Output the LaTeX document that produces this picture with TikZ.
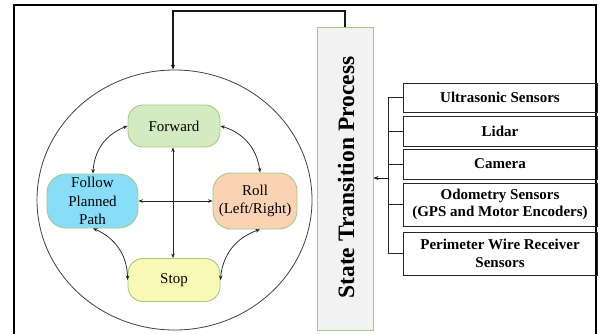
\documentclass[tikz,border=0pt]{standalone}
\usepackage{fontspec}
\setmainfont{Liberation Serif}
\usetikzlibrary{arrows.meta,shapes.geometric,bending}

\definecolor{fwdfill}{HTML}{D4EBC2}
\definecolor{followfill}{HTML}{88DDF9}
\definecolor{rollfill}{HTML}{F9D3B4}
\definecolor{stopfill}{HTML}{F9F9B6}
\definecolor{stateedge}{HTML}{9FCC84}
\definecolor{panelfill}{HTML}{F2F2F2}

\tikzset{
  statebox/.style={draw=stateedge, line width=0.9pt, align=center, inner sep=0pt,
    font=\fontsize{15}{18.3}\selectfont},
  sensorbox/.style={draw=black!85, line width=1pt, minimum width=194pt, align=center,
    inner sep=0pt, font=\fontsize{15}{17.3}\selectfont\bfseries},
  link/.style={line width=0.75pt, black!85,
    {Stealth[length=4.5pt,width=3.6pt]}-{Stealth[length=4.5pt,width=3.6pt]}},
  feed/.style={line width=1.1pt, black!90},
}

\begin{document}
\begin{tikzpicture}[x=1pt,y=1pt]
\useasboundingbox (0,0) rectangle (605,333);

% outer frame (open at the bottom edge)
\draw[line width=2pt] (14,-8) -- (14,328) -- (596,328) -- (596,-8);

% state machine ring
\node[ellipse, draw=black!75, line width=0.8pt, minimum width=275pt, minimum height=260pt]
  (ring) at (174.5,133) {};

% states
\node[statebox, fill=fwdfill, minimum width=92pt, minimum height=42pt, rounded corners=15pt]
  (fwd) at (174,207) {Forward};
\node[statebox, fill=followfill, minimum width=91pt, minimum height=54pt, rounded corners=19pt]
  (follow) at (92.5,132) {Follow\\Planned\\Path};
\node[statebox, fill=rollfill, minimum width=84pt, minimum height=56pt, rounded corners=18pt]
  (roll) at (255,132) {Roll\\(Left/Right)};
\node[statebox, fill=stopfill, minimum width=92pt, minimum height=43pt, rounded corners=15pt]
  (stop) at (174,53) {Stop};

% transitions
\draw[link] (fwd.south -| 173,0) -- (stop.north -| 173,0);
\draw[link] (follow.east) -- (roll.west);
\draw[link] (fwd.west) to[bend right=35] ([xshift=0.5pt]follow.north);
\draw[link] (fwd.east) to[bend left=35] ([xshift=5pt]roll.north);
\draw[link] ([xshift=0.5pt]follow.south) to[bend left=35] (stop.west);
\draw[link] ([xshift=5pt]roll.south) to[bend right=35] (stop.east);

% state transition process panel
\node[draw=stateedge, fill=panelfill, line width=0.9pt, minimum width=56pt, minimum height=303pt,
  inner sep=0pt] (stp) at (345,154.5) {};
\node[rotate=90, font=\fontsize{23.5}{26}\selectfont\bfseries, inner sep=0pt]
  (stplabel) at (346,155.5) {State Transition Process};

% feedback from the panel back into the ring
\coordinate (top) at (173,322);
\draw[feed, -{Stealth[length=5pt,width=4pt]}]
  (stp.north) |- (top) -- (top |- ring.north);

% sensors
\node[sensorbox, minimum height=29pt] (ultra) at (500,235.5) {Ultrasonic Sensors};
\node[sensorbox, minimum height=30pt] (lidar) at (500,202) {Lidar};
\node[sensorbox, minimum height=30pt] (cam) at (500,169) {Camera};
\node[sensorbox, minimum height=43pt] (odo) at (500,128.5) {Odometry Sensors\\(GPS and Motor Encoders)};
\node[sensorbox, minimum height=43pt] (peri) at (500,79.5) {Perimeter Wire Receiver\\Sensors};

% sensor bus feeding the panel
\coordinate (bus) at (388,155);
\draw[line width=0.8pt, black!85] (ultra.west -| bus) -- (peri.west -| bus);
\foreach \s in {ultra,lidar,cam,odo,peri}
  \draw[line width=0.8pt, black!85] (\s.west) -- (\s.west -| bus);
\draw[line width=0.9pt, black!90, -{Stealth[length=5pt,width=4pt]}] (bus) -- (bus -| stp.east);
\end{tikzpicture}
\end{document}
